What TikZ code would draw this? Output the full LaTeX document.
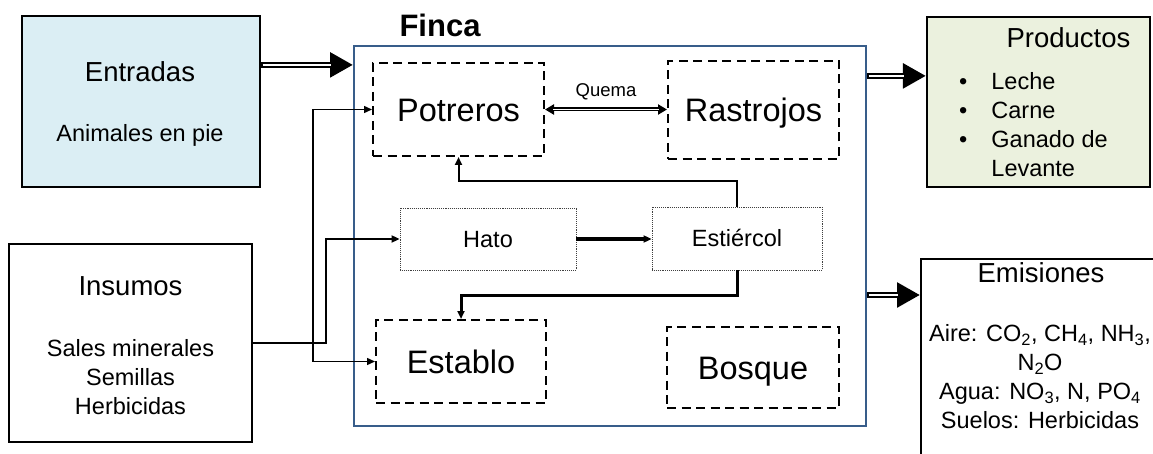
\documentclass[tikz,border=0pt]{standalone}
\usepackage{fontspec}
\setmainfont{Liberation Sans}
\usetikzlibrary{arrows.meta,positioning}

\definecolor{entradasblue}{RGB}{219,238,244}
\definecolor{productosgreen}{RGB}{235,241,222}
\definecolor{fincablue}{RGB}{56,93,138}

\newcommand{\zonefont}{\fontsize{32.5}{39}\selectfont}
\newcommand{\headfont}{\fontsize{27.5}{33}\selectfont}
\newcommand{\bodyfont}{\fontsize{23.5}{28.7}\selectfont}
\newcommand{\quemafont}{\fontsize{18.5}{22}\selectfont}
\newcommand{\fincafont}{\fontsize{31}{37}\selectfont}

\begin{document}
\begin{tikzpicture}[x=1pt,y=-1pt,
  outer/.style={draw,line width=2.2pt,inner sep=0pt},
  zone/.style={draw,line width=2pt,dash pattern=on 9pt off 5.5pt,inner sep=0pt,font=\zonefont,text height=23.3pt,text depth=0pt},
  unit/.style={draw=black!75,densely dotted,line width=0.9pt,inner sep=0pt,font=\bodyfont,text height=16.8pt,text depth=0pt},
  bigarrow/.style={line width=5.5pt,-{Triangle[length=23pt,width=24pt]},postaction={draw=white,line width=1.6pt,-,shorten <=1.5pt,shorten >=22pt}},
  flow/.style={-{Triangle[length=8pt,width=7pt]}}]
    \useasboundingbox (0,0) rectangle (1153,454);
    \clip (0,0) rectangle (1153,454);

    % outer boxes
    \node[outer,fill=entradasblue,minimum width=238pt,minimum height=171pt] (entradas) at (141,101.5) {};
    \node[font=\headfont,anchor=base] (entradastitle) at (140,82) {Entradas};
    \node[font=\bodyfont,anchor=base] (entradastext) at (140,142) {Animales en pie};

    \node[outer,minimum width=243pt,minimum height=198pt] (insumos) at (130.5,343) {};
    \node[font=\headfont,anchor=base] (insumostitle) at (130.5,295) {Insumos};
    \node[font=\bodyfont,anchor=base,align=center] (insumostext) at (130.5,414) {Sales minerales\\Semillas\\Herbicidas};

    \node[outer,fill=productosgreen,minimum width=223pt,minimum height=170pt] (productos) at (1038.5,102) {};
    \node[font=\headfont,anchor=base] (productostitle) at (1068.5,48) {Productos};
    \node[font=\bodyfont,anchor=base west,inner sep=0pt] (productoslist) at (959,90)
      {\begin{tabular}[t]{@{}l@{\hspace{24pt}}l@{}}\textbullet & Leche\\ \textbullet & Carne\\ \textbullet & Ganado de\\ & Levante\end{tabular}};

    \node[outer,minimum width=250pt,minimum height=230pt,anchor=north west] (emisiones) at (920,258) {};
    \node[font=\headfont,anchor=base] (emisionestitle) at (1041,282) {Emisiones};
    \node[font=\bodyfont,anchor=base,align=center] (emisionestext) at (1040,428)
      {Aire: CO\textsubscript{2}, CH\textsubscript{4}, NH\textsubscript{3},\\N\textsubscript{2}O\\Agua: NO\textsubscript{3}, N, PO\textsubscript{4}\\Suelos: Herbicidas};

    % finca
    \node[draw=fincablue,line width=2pt,inner sep=0pt,minimum width=512pt,minimum height=379pt] (finca) at (610,236) {};
    \node[font=\fincafont\bfseries,anchor=base] (fincatitle) at (440,37) {Finca};

    \node[zone,minimum width=171pt,minimum height=93pt] (potreros) at (458.5,109.5) {Potreros};
    \node[zone,minimum width=171pt,minimum height=98pt] (rastrojos) at (753.5,110) {Rastrojos};
    \node[unit,minimum width=176pt,minimum height=62pt] (hato) at (488,239) {Hato};
    \node[unit,minimum width=170pt,minimum height=63pt] (estiercol) at (737,238.5) {Estiércol};
    \node[zone,minimum width=170pt,minimum height=83pt] (establo) at (461,361.5) {Establo};
    \node[zone,minimum width=172pt,minimum height=81pt] (bosque) at (753,367.5) {Bosque};

    % big arrows
    \path (entradas.north east) ++(0,50) coordinate (entradasout);
    \path (productos.north west) ++(0,60) coordinate (productosin);
    \path (emisiones.north west) ++(0,37) coordinate (emisionesin);
    \draw[bigarrow] (entradasout) -- (entradasout -| finca.west);
    \draw[bigarrow] (productosin -| finca.east) -- (productosin);
    \draw[bigarrow] (emisionesin -| finca.east) -- (emisionesin);

    \draw[{Triangle[length=9pt,width=10pt]}-{Triangle[length=9pt,width=10pt]},line width=4pt,
      postaction={draw=white,line width=1.3pt,-,shorten <=8pt,shorten >=8pt}]
      (potreros.east) -- node[above=4pt,font=\quemafont] (quema) {Quema} (potreros.east -| rastrojos.west);

    % flows
    \coordinate (split) at (326,343);
    \coordinate (trunk) at (313,343);
    \draw[flow,line width=2.8pt] (insumos.east) -- (split) |- (hato.west);
    \draw[flow,line width=1.4pt] (trunk) |- (potreros.west);
    \draw[flow,line width=1.4pt] (trunk) |- (establo.west);
    \draw[flow,line width=4.5pt] (hato.east) -- (hato.east -| estiercol.west);
    \draw[flow,line width=2pt] (estiercol.north) -- ++(0,-26) -| (potreros.south);
    \draw[flow,line width=3pt] (estiercol.south) -- ++(0,25) -| (establo.north);
\end{tikzpicture}
\end{document}
